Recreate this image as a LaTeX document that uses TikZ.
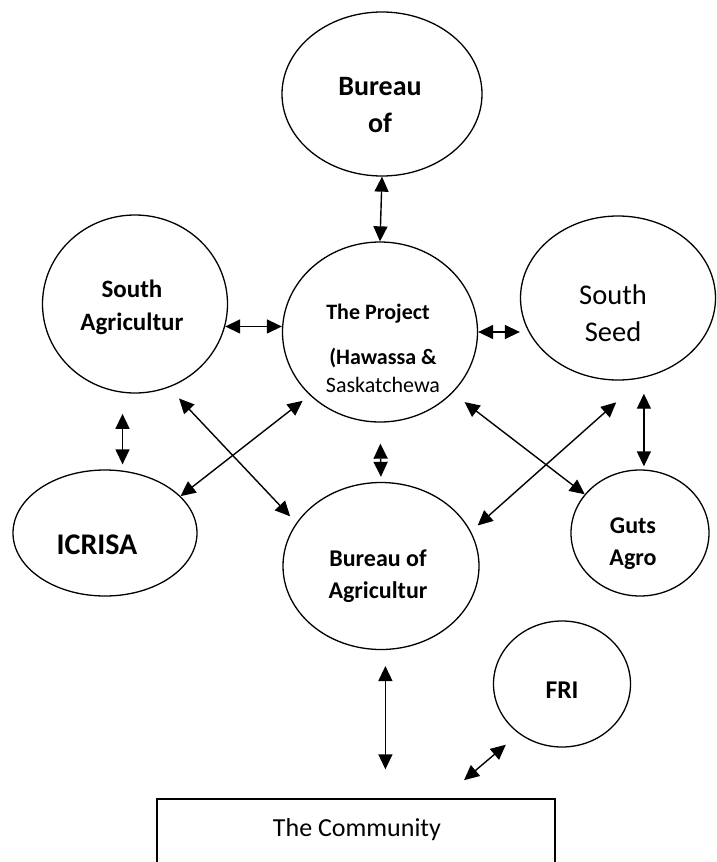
\documentclass[tikz,border=0pt]{standalone}
\usepackage{fontspec}
\setmainfont{Carlito}
\usetikzlibrary{shapes.geometric,arrows.meta}
\begin{document}
\begin{tikzpicture}[x=1pt,y=-1pt,
    bubble/.style={draw,ellipse,line width=1.3pt,inner sep=0pt},
    link/.style={line width=1.4pt,{Triangle[length=15pt,width=14pt]}-{Triangle[length=15pt,width=14pt]}},
    txtb/.style={anchor=base,inner sep=0pt,font=\bfseries\fontsize{#1}{#1}\selectfont},
    txtr/.style={anchor=base,inner sep=0pt,font=\fontsize{#1}{#1}\selectfont}]
                \useasboundingbox (0,0) rectangle (716,862);

                \node[bubble,minimum width=200pt,minimum height=164pt] (bur) at (382,94) {};
                \node[bubble,minimum width=195pt,minimum height=180pt] (proj) at (380,332) {};
                \node[bubble,minimum width=185pt,minimum height=178pt] (sac) at (135,304) {};
                \node[bubble,minimum width=195pt,minimum height=164pt] (seed) at (618,298) {};
                \node[bubble,minimum width=184pt,minimum height=126pt] (icr) at (105,533) {};
                \node[bubble,minimum width=196pt,minimum height=167pt] (boa) at (381,566) {};
                \node[bubble,minimum width=138pt,minimum height=126pt] (guts) at (640,533) {};
                \node[bubble,minimum width=137pt,minimum height=126pt] (fri) at (562,684) {};
                \node[draw,line width=1.4pt,minimum width=398pt,minimum height=120pt,inner sep=0pt] (com) at (356,859) {};

                \node[txtb=28] (bur-a) at (380,95) {Bureau};
                \node[txtb=28] (bur-b) at (380,132) {of};
                \node[txtb=25] (sac-a) at (132,297) {South};
                \node[txtb=25] (sac-b) at (132,330) {Agricultur};
                \node[txtb=22] (proj-a) at (378,319) {The Project};
                \node[txtb=22] (proj-b) at (383,364) {(Hawassa \&};
                \node[txtr=22] (proj-c) at (383,392) {Saskatchewa};
                \node[txtr=28.5] (seed-a) at (613,304) {South};
                \node[txtr=28.5] (seed-b) at (613,341) {Seed};
                \node[txtb=30] (icr-a) at (97,554) {ICRISA};
                \node[txtb=24] (boa-a) at (378,566) {Bureau of};
                \node[txtb=24] (boa-b) at (378,598) {Agricultur};
                \node[txtb=24] (guts-a) at (633,533) {Guts};
                \node[txtb=24] (guts-b) at (633,565) {Agro};
                \node[txtb=25.6] (fri-a) at (562,698) {FRI};
                \node[txtr=26] (com-a) at (357,836) {The Community};

                \draw[link] (bur.south) -- (proj.north);
                \draw[link] (sac.-14) -- (sac.-14 -| proj.west);
                \draw[link] (proj.east) -- (proj.east -| seed.west);
                \draw[link,shorten <=21pt,shorten >=5pt] (proj.south) -- (boa.north);
                \draw[link,shorten <=21pt,shorten >=5pt] (sac.-98) -- (sac.-98 |- icr.north);
                \draw[link,shorten <=16pt,shorten >=3pt] (seed.-72) -- (seed.-72 |- guts.north);
                \draw[link,shorten <=15pt,shorten >=9pt] (sac.-68) -- (boa.153);
                \draw[link,shorten <=9pt] (proj.222) -- (icr.26);
                \draw[link,shorten <=15pt] (proj.-40) -- (guts.145);
                \draw[link,shorten <=37pt,shorten >=9pt] (seed.-72) -- (boa.21);
                \draw[link,shorten <=16pt,shorten >=29pt] (boa.-87) -- (boa.-87 |- com.north);
                \draw[link,shorten <=17pt,shorten >=28pt] (fri.229) -- (com.35);
            \end{tikzpicture}
\end{document}
